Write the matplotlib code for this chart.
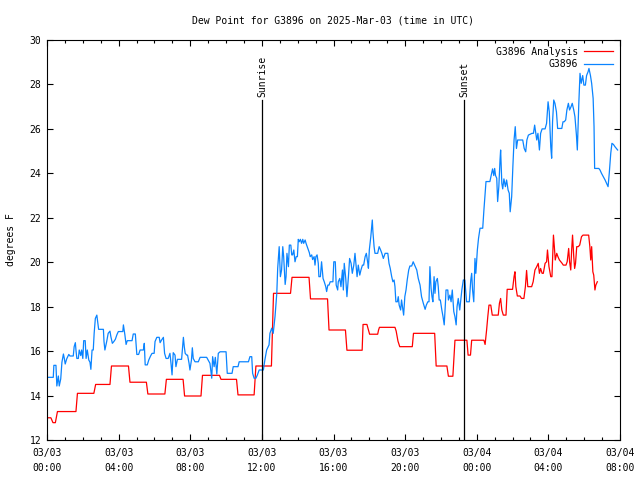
import matplotlib
matplotlib.use("Agg")
import matplotlib.pyplot as plt
from matplotlib.ticker import MultipleLocator
import numpy as np
import datetime as dt

# minutes after 2025-03-03 00:00 UTC, dew point in F
analysis_min = [0, 13, 20, 28, 35, 97, 102, 157, 163, 211, 216, 273, 278, 333, 338, 395,
                400, 456, 461, 516, 521, 578, 583, 635, 640, 694, 700, 752, 759, 816,
                821, 878, 883, 940, 945, 1000, 1005, 1056, 1059, 1072, 1081, 1108, 1111,
                1114, 1166, 1170, 1176, 1182, 1224, 1228, 1299, 1304, 1340, 1345, 1360,
                1367, 1407, 1411, 1419, 1423, 1464, 1468, 1473, 1477, 1481, 1487, 1492,
                1512, 1516, 1520, 1524, 1529, 1538, 1542, 1560, 1565, 1568, 1571, 1576,
                1585, 1590, 1598, 1603, 1607, 1611, 1624, 1629, 1635, 1641, 1646, 1650,
                1654, 1659, 1663, 1669, 1674, 1677, 1682, 1688, 1692, 1697, 1700, 1703,
                1708, 1712, 1717, 1726, 1730, 1739, 1743, 1748, 1751, 1755, 1758, 1761,
                1765, 1768, 1771, 1775, 1780, 1785, 1791, 1796, 1815, 1819, 1822, 1825,
                1829, 1832, 1836, 1839, 1844]
analysis_val = [13.0, 13.0, 12.78, 12.78, 13.28, 13.28, 14.1, 14.1, 14.5, 14.5, 15.33, 15.33,
                14.6, 14.6, 14.07, 14.07, 14.73, 14.73, 13.98, 13.98, 14.91, 14.91, 14.73,
                14.73, 14.03, 14.03, 15.33, 15.33, 18.6, 18.6, 19.32, 19.32, 18.35, 18.35,
                16.95, 16.95, 16.04, 16.04, 17.2, 17.2, 16.76, 16.76, 16.95, 17.07, 17.07,
                16.9, 16.45, 16.2, 16.2, 16.8, 16.8, 15.33, 15.33, 14.87, 14.87, 16.49,
                16.49, 15.82, 15.82, 16.49, 16.49, 16.3, 16.95, 17.55, 18.07, 18.07, 17.62,
                17.62, 18.15, 18.37, 17.85, 17.62, 17.62, 18.78, 18.78, 19.35, 19.57, 18.9,
                18.48, 18.48, 18.37, 18.37, 18.9, 19.63, 18.9, 18.9, 19.12, 19.65, 19.8,
                19.95, 19.5, 19.72, 19.5, 19.5, 19.95, 20.02, 20.55, 19.8, 19.35, 19.35,
                21.22, 20.7, 20.1, 20.4, 20.25, 20.1, 19.95, 19.87, 19.87, 20.02, 20.62,
                20.02, 19.65, 20.55, 21.22, 20.25, 19.72, 19.95, 20.7, 20.7, 20.77, 21.15,
                21.22, 21.22, 20.7, 20.1, 20.7, 19.57, 19.42, 18.75, 18.97, 19.12]

station_min = [0, 21, 23, 30, 33, 38, 41, 46, 50, 55, 58, 61, 66, 73, 77, 88, 91, 95, 97, 100,
               105, 108, 113, 116, 120, 123, 128, 131, 135, 140, 144, 147, 151, 155, 158, 162,
               167, 170, 173, 189, 191, 194, 200, 205, 211, 214, 219, 224, 229, 234, 239, 254,
               256, 261, 265, 269, 285, 289, 296, 301, 307, 312, 323, 326, 329, 336, 341, 347,
               352, 359, 362, 368, 376, 379, 384, 390, 394, 399, 406, 412, 416, 419, 423, 429,
               432, 437, 451, 457, 460, 463, 468, 471, 476, 479, 484, 487, 490, 496, 507, 513,
               535, 541, 546, 552, 555, 560, 564, 569, 574, 580, 600, 604, 620, 624, 640, 644,
               675, 680, 686, 689, 694, 700, 705, 711, 725, 730, 736, 744, 747, 753, 758, 764,
               770, 773, 776, 778, 782, 786, 790, 793, 798, 801, 804, 809, 812, 817, 820, 823,
               827, 831, 835, 839, 842, 845, 849, 853, 857, 860, 865, 868, 872, 876, 879, 882,
               887, 890, 895, 898, 901, 905, 909, 911, 916, 920, 925, 929, 934, 937, 941, 945,
               949, 958, 961, 966, 969, 974, 976, 981, 985, 990, 993, 996, 1001, 1005, 1010,
               1014, 1019, 1023, 1028, 1032, 1035, 1039, 1043, 1048, 1052, 1057, 1061, 1066,
               1070, 1075, 1077, 1080, 1085, 1088, 1090, 1092, 1096, 1099, 1108, 1113, 1117,
               1122, 1127, 1133, 1142, 1146, 1150, 1155, 1159, 1163, 1166, 1169, 1174, 1177,
               1180, 1185, 1188, 1192, 1195, 1199, 1203, 1207, 1212, 1216, 1222, 1227, 1233,
               1239, 1244, 1250, 1255, 1261, 1267, 1271, 1276, 1280, 1283, 1287, 1290, 1293,
               1297, 1300, 1303, 1308, 1311, 1314, 1318, 1323, 1327, 1331, 1335, 1337, 1343,
               1345, 1350, 1354, 1358, 1363, 1367, 1371, 1374, 1378, 1383, 1390, 1395, 1400,
               1406, 1415, 1420, 1423, 1426, 1430, 1434, 1437, 1442, 1446, 1451, 1460, 1464,
               1471, 1484, 1490, 1493, 1497, 1500, 1503, 1507, 1510, 1514, 1518, 1520, 1524,
               1527, 1531, 1536, 1540, 1545, 1549, 1552, 1557, 1561, 1565, 1569, 1573, 1577,
               1594, 1599, 1604, 1608, 1613, 1625, 1630, 1634, 1641, 1645, 1650, 1654, 1659,
               1669, 1674, 1679, 1683, 1688, 1691, 1694, 1698, 1702, 1707, 1711, 1725, 1729,
               1733, 1738, 1742, 1747, 1751, 1756, 1760, 1765, 1769, 1774, 1777, 1782, 1786,
               1790, 1795, 1799, 1804, 1808, 1813, 1816, 1821, 1825, 1830, 1833, 1835, 1849,
               1853, 1858, 1864, 1870, 1875, 1880, 1884, 1889, 1893, 1898, 1903, 1909, 1912]
station_val = [14.82, 14.82, 15.36, 15.36, 14.43, 14.88, 14.43, 14.75, 15.5, 15.87, 15.67,
               15.42, 15.65, 15.85, 15.78, 15.78, 16.2, 16.38, 16.05, 15.67, 15.67, 16.05,
               15.8, 16.05, 15.67, 16.47, 16.47, 15.67, 16.05, 15.6, 15.5, 15.18, 16.05,
               16.05, 16.8, 17.47, 17.62, 17.3, 16.98, 16.98, 16.43, 16.05, 16.43, 16.8,
               16.9, 16.65, 16.35, 16.43, 16.53, 16.73, 16.88, 16.88, 17.18, 16.73, 16.3,
               16.47, 16.47, 16.77, 16.77, 15.85, 15.85, 16.05, 16.05, 16.35, 15.38, 15.38,
               15.6, 15.78, 15.9, 15.9, 16.43, 16.62, 16.62, 16.38, 16.5, 16.62, 15.9,
               15.67, 15.67, 15.9, 15.38, 14.93, 15.93, 15.82, 15.3, 15.63, 15.63, 16.62,
               16.2, 15.9, 15.82, 15.82, 15.45, 15.15, 15.6, 16.15, 15.67, 15.52, 15.52,
               15.72, 15.72, 15.57, 15.45, 14.78, 15.75, 15.3, 15.72, 14.97, 15.9, 15.97,
               15.97, 15.0, 15.0, 15.3, 15.3, 15.52, 15.52, 15.75, 15.75, 15.0, 14.78,
               14.78, 14.93, 15.15, 15.15, 15.6, 16.05, 16.28, 16.8, 17.03, 16.8, 17.55,
               18.6, 19.73, 20.33, 20.7, 19.35, 19.65, 20.7, 20.25, 19.0, 19.35, 20.4, 19.8,
               20.77, 20.77, 20.33, 20.33, 20.55, 20.02, 20.25, 20.25, 21.03, 20.92, 21.03,
               20.85, 21.03, 20.85, 21.0, 20.85, 20.7, 20.55, 20.43, 20.25, 20.33, 20.12,
               20.25, 19.87, 20.25, 20.33, 19.95, 19.35, 19.35, 20.02, 19.27, 19.12, 18.9,
               18.68, 18.97, 18.97, 19.12, 19.12, 20.02, 20.02, 18.97, 18.75, 19.12, 19.27,
               18.9, 19.65, 18.75, 19.95, 19.27, 18.45, 19.35, 20.17, 19.95, 19.5, 19.87,
               20.4, 19.95, 19.35, 19.87, 19.42, 19.65, 19.87, 19.87, 20.25, 20.4, 19.95,
               19.73, 20.55, 21.15, 21.6, 21.9, 21.38, 20.7, 20.4, 20.4, 20.7, 20.58, 20.4,
               20.17, 20.4, 20.4, 19.95, 19.73, 19.35, 19.12, 19.2, 18.9, 18.22, 18.22,
               18.45, 18.07, 17.85, 18.3, 17.92, 17.62, 18.45, 18.75, 19.2, 19.65, 19.83,
               19.83, 20.02, 19.83, 19.65, 19.27, 18.97, 18.45, 18.15, 17.88, 18.07, 18.22,
               18.22, 19.8, 18.82, 18.45, 18.22, 19.35, 18.6, 19.12, 19.27, 18.9, 18.3,
               18.3, 17.85, 17.55, 17.18, 18.15, 18.75, 18.75, 18.3, 18.52, 18.22, 18.75,
               17.78, 17.55, 17.18, 18.0, 18.37, 17.85, 18.75, 19.2, 19.2, 18.22, 18.22,
               19.2, 19.5, 18.75, 18.22, 20.17, 19.5, 20.55, 21.08, 21.53, 21.53, 22.35,
               23.63, 23.63, 24.0, 24.2, 23.9, 24.22, 23.9, 23.78, 22.73, 23.4, 24.6, 25.05,
               23.55, 23.3, 23.75, 23.4, 23.7, 23.25, 23.1, 22.27, 22.95, 24.3, 25.5, 26.1,
               25.12, 25.5, 25.5, 25.12, 24.97, 25.5, 25.72, 25.8, 25.8, 26.17, 25.5, 25.8,
               25.05, 25.8, 26.0, 26.0, 26.25, 27.22, 26.77, 25.2, 24.68, 26.32, 27.3, 27.15,
               26.77, 26.02, 26.02, 26.32, 26.32, 26.4, 26.85, 27.15, 26.85, 27.0, 27.15,
               26.85, 26.55, 25.72, 25.05, 27.15, 28.5, 28.05, 28.4, 27.97, 27.97, 28.4,
               28.57, 28.72, 28.4, 28.05, 27.37, 26.1, 24.22, 24.22, 24.15, 24.0, 23.85,
               23.7, 23.55, 23.4, 24.0, 24.9, 25.35, 25.3, 25.2, 25.1, 25.05]

sunrise_min = 720    # 12:00 UTC
sunset_min = 1397    # 23:17 UTC
start = dt.datetime(2025, 3, 3)
tick_hours = [0, 4, 8, 12, 16, 20, 24, 28, 32]

plt.rcParams['font.family'] = ['DejaVu Sans Mono']
plt.rcParams['font.size'] = 7

fig = plt.figure(figsize=(6.4, 4.8), dpi=100)
ax = fig.add_axes([47 / 640, 40 / 480, 573 / 640, 400 / 480])

ax.plot(np.array(analysis_min) / 60, analysis_val, color='#ff0000', lw=0.9,
        label='G3896 Analysis')
ax.plot(np.array(station_min) / 60, station_val, color='#0a84ff', lw=0.9,
        label='G3896')

# sunrise / sunset markers
for m, name in [(sunrise_min, 'Sunrise'), (sunset_min, 'Sunset')]:
    ax.plot([m / 60, m / 60], [12, 27.3], color='black', lw=0.9)
    ax.text(m / 60, 27.45, name, rotation=90, ha='center', va='bottom', fontsize=7)

ax.set_xlim(0, 32)
ax.set_ylim(12, 30)
ax.set_xticks(tick_hours)
ax.set_xticklabels([(start + dt.timedelta(hours=h)).strftime('%m/%d\n%H:%M') for h in tick_hours],
                   linespacing=1.6)
ax.xaxis.set_minor_locator(MultipleLocator(1))
ax.set_yticks(range(12, 31, 2))
ax.tick_params(which='both', direction='in', top=True, right=True, width=0.8, pad=4)
ax.tick_params(axis='x', pad=6)
ax.tick_params(which='major', length=4.5)
ax.tick_params(which='minor', length=2.5)
for s in ax.spines.values():
    s.set_linewidth(0.8)

ax.set_title('Dew Point for G3896 on 2025-Mar-03 (time in UTC)', fontsize=7, pad=12)
ax.set_ylabel('degrees F', fontsize=7, labelpad=10)

ax.legend(loc='upper right', frameon=False, markerfirst=False, handlelength=3.0,
          borderaxespad=0.3, labelspacing=0.25, handletextpad=0.6, fontsize=7)

fig.savefig('out.png', dpi=100)
